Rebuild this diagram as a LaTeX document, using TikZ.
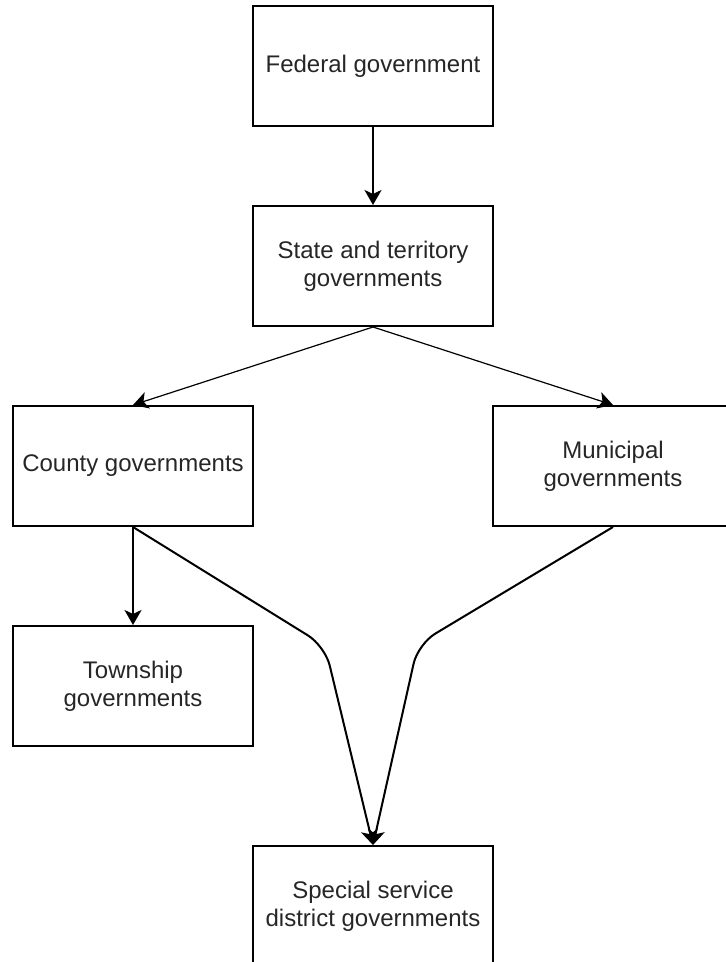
\documentclass[tikz,border=0pt]{standalone}
\usepackage{fontspec}
\setmainfont{Liberation Sans}
\usetikzlibrary{arrows.meta}

\begin{document}
\begin{tikzpicture}[x=1pt,y=-1pt,>={Stealth[length=7.5pt,width=8.5pt,inset=2pt]}]
			\clip (0,0) rectangle (363,481);
			\begin{scope}[every node/.style={draw,line width=1pt,minimum width=120pt,minimum height=60pt,inner sep=0pt,align=center,text=black!85,font=\fontsize{12}{14}\selectfont}]
				\node (fed) at (186.5,33) {Federal government};
				\node (state) at (186.5,133) {State and territory\\governments};
				\node (county) at (66.5,233) {County governments};
				\node (muni) at (306.5,233) {Municipal\\governments};
				\node (town) at (66.5,343) {Township\\governments};
				\node (special) at (186.5,453) {Special service\\district governments};
			\end{scope}
			
			\coordinate (bendL) at (162.5,323);
			\coordinate (bendR) at (209,322);
			
			\begin{scope}[every edge/.style={draw=black,line width=1pt}]
				\path [->] (fed) edge (state);
				\path [->] (state.south) edge [line width=0.6pt] (county.north);
				\path [->] (state.south) edge [line width=0.6pt] (muni.north);
				\path [->] (county) edge (town);
			\end{scope}
			
			\draw [->,line width=1pt,rounded corners=10pt] (county.south) -- (bendL) -- (special.north);
			\draw [->,line width=1pt,rounded corners=10pt] (muni.south) -- (bendR) -- (special.north);
		\end{tikzpicture}
\end{document}
